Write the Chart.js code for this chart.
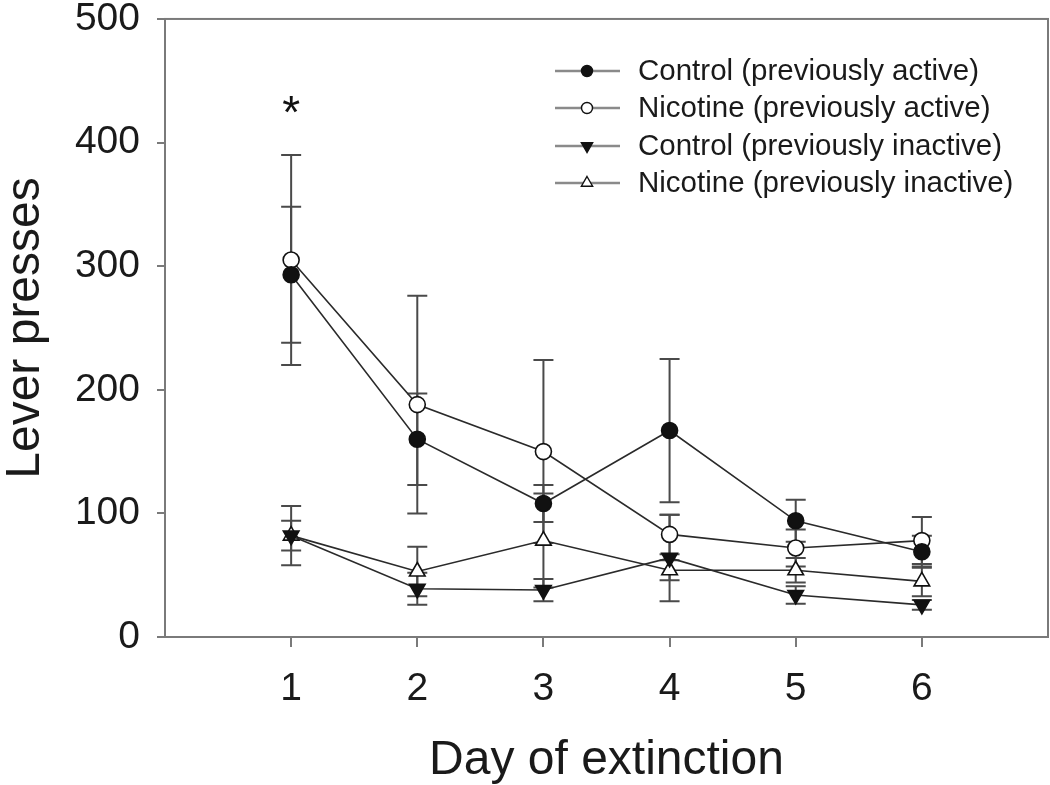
<!DOCTYPE html>
<html>
<head>
<meta charset="utf-8">
<script src="https://cdn.jsdelivr.net/npm/chart.js@4.4.1/dist/chart.umd.min.js"></script>
<style>
  html, body { margin: 0; padding: 0; background: #fff; }
  #wrap { width: 1050px; height: 785px; }
</style>
</head>
<body>
<div id="wrap"><canvas id="mycanvas1" width="1050" height="785"></canvas></div>
<script>
// day of extinction
var days = [1, 2, 3, 4, 5, 6];
var yTicks = [0, 100, 200, 300, 400, 500];

// lever presses (mean) and error (SEM)
var controlActive = [293, 160, 108, 167, 94, 69];
var controlActiveErr = [55, 37, 15, 58, 17, 13];
var nicotineActive = [305, 188, 150, 83, 72, 78];
var nicotineActiveErr = [85, 88, 74, 16, 15, 19];
var controlInactive = [82, 39, 38, 64, 34, 26];
var controlInactiveErr = [12, 13, 9, 35, 7, 4];
var nicotineInactive = [82, 53, 78, 54, 54, 45];
var nicotineInactiveErr = [24, 20, 38, 8, 10, 12];

var labels = ["Control (previously active)", "Nicotine (previously active)",
              "Control (previously inactive)", "Nicotine (previously inactive)"];
var sigDays = [1];
var sigValue = 431;

var FONT = "'Liberation Sans', Arial, Helvetica, sans-serif";

function pts(vals) {
  var out = [];
  for (var i = 0; i < days.length; i++) out.push({x: days[i], y: vals[i]});
  return out;
}

function makeSet(label, vals, errs, style, rot, fill) {
  return {
    label: label,
    data: pts(vals),
    errors: errs,
    borderColor: "#2a2a2a",
    borderWidth: 1.6,
    pointStyle: style,
    pointRotation: rot,
    pointRadius: style == "triangle" ? 9 : 8,
    pointBorderWidth: 1.6,
    pointBackgroundColor: fill,
    pointBorderColor: "#111",
    pointHoverRadius: 8,
    fill: false,
    tension: 0
  };
}

var sets = [
  makeSet(labels[0], controlActive, controlActiveErr, "circle", 0, "#111"),
  makeSet(labels[1], nicotineActive, nicotineActiveErr, "circle", 0, "#fff"),
  makeSet(labels[2], controlInactive, controlInactiveErr, "triangle", 180, "#111"),
  makeSet(labels[3], nicotineInactive, nicotineInactiveErr, "triangle", 0, "#fff")
];

// error bars, frame, asterisk and legend
var extras = {
  id: "extras",
  beforeDatasetsDraw: function(chart) {
    var ctx = chart.ctx;
    var ys = chart.scales.y, xs = chart.scales.x;
    ctx.save();
    ctx.strokeStyle = "#4a4a4a";
    ctx.lineWidth = 2;
    chart.data.datasets.forEach(function(ds) {
      ds.data.forEach(function(p, i) {
        var e = ds.errors[i];
        var x = xs.getPixelForValue(p.x);
        var top = ys.getPixelForValue(p.y + e);
        var bot = ys.getPixelForValue(p.y - e);
        ctx.beginPath();
        ctx.moveTo(x, top); ctx.lineTo(x, bot);
        ctx.moveTo(x - 10, top); ctx.lineTo(x + 10, top);
        ctx.moveTo(x - 10, bot); ctx.lineTo(x + 10, bot);
        ctx.stroke();
      });
    });
    ctx.restore();
  },
  afterDraw: function(chart) {
    var ctx = chart.ctx;
    var a = chart.chartArea;
    var xs = chart.scales.x, ys = chart.scales.y;
    ctx.save();
    // frame
    ctx.strokeStyle = "#7a7a7a";
    ctx.lineWidth = 2;
    ctx.strokeRect(a.left, a.top, a.right - a.left, a.bottom - a.top);

    // asterisk
    ctx.fillStyle = "#111";
    ctx.font = "46px " + FONT;
    ctx.textAlign = "center";
    ctx.textBaseline = "alphabetic";
    sigDays.forEach(function(d) {
      var m = ctx.measureText("*");
      var cy = ys.getPixelForValue(sigValue);
      var base = cy + (m.actualBoundingBoxAscent - m.actualBoundingBoxDescent) / 2;
      ctx.fillText("*", xs.getPixelForValue(d), base);
    });

    // legend
    var rows = [71, 108, 146, 183];
    ctx.font = "29.5px " + FONT;
    ctx.textAlign = "left";
    ctx.textBaseline = "middle";
    chart.data.datasets.forEach(function(ds, i) {
      var y = rows[i];
      ctx.strokeStyle = "#8a8a8a";
      ctx.lineWidth = 2.5;
      ctx.beginPath();
      ctx.moveTo(555, y); ctx.lineTo(620, y);
      ctx.stroke();
      ctx.fillStyle = ds.pointBackgroundColor;
      ctx.strokeStyle = "#111";
      ctx.lineWidth = 1.4;
      Chart.helpers.drawPoint(ctx, {
        pointStyle: ds.pointStyle,
        radius: ds.pointStyle == "triangle" ? 6.5 : 5.5,
        rotation: ds.pointRotation,
        borderWidth: 1.4
      }, 587, y);
      ctx.fillStyle = "#1a1a1a";
      ctx.fillText(ds.label, 638, y + 1);
    });
    ctx.restore();
  }
};

var ctx = document.getElementById("mycanvas1");
new Chart(ctx, {
  type: "line",
  data: { datasets: sets },
  plugins: [extras],
  options: {
    responsive: false,
    animation: false,
    events: [],
    layout: { autoPadding: false, padding: { top: 15, right: 2, left: 0, bottom: 0 } },
    plugins: { legend: { display: false }, tooltip: { enabled: false } },
    scales: {
      x: {
        type: "linear",
        min: 0,
        max: 7,
        afterBuildTicks: function(scale) {
          scale.ticks = days.map(function(d) { return {value: d}; });
        },
        afterFit: function(scale) { scale.height = 148; },
        grid: { display: true, drawOnChartArea: false, drawTicks: true, tickLength: 10, color: "#7a7a7a", lineWidth: 2 },
        border: { display: true, color: "#7a7a7a", width: 2 },
        ticks: { color: "#1a1a1a", font: { family: FONT, size: 39 }, padding: 19, maxRotation: 0 },
        title: { display: true, text: "Day of extinction", color: "#1a1a1a", font: { family: FONT, size: 48, lineHeight: 1.0 }, padding: { top: 0, bottom: 0 } }
      },
      y: {
        min: 0,
        max: 500,
        afterBuildTicks: function(scale) {
          scale.ticks = yTicks.map(function(v) { return {value: v}; });
        },
        afterFit: function(scale) { scale.width = 165; },
        grid: { display: true, drawOnChartArea: false, drawTicks: true, tickLength: 8, color: "#7a7a7a", lineWidth: 2 },
        border: { display: true, color: "#7a7a7a", width: 2 },
        ticks: { color: "#1a1a1a", font: { family: FONT, size: 39, lineHeight: 0.1 }, padding: 17 },
        title: { display: true, text: "Lever presses", color: "#1a1a1a", font: { family: FONT, size: 48, lineHeight: 1.0 }, padding: { top: 2, bottom: 0 } }
      }
    }
  }
});
</script>
</body>
</html>
